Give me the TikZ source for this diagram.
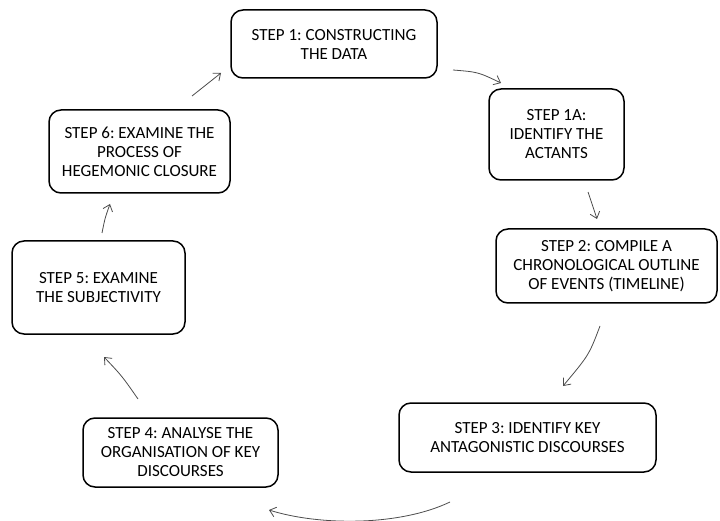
\documentclass[tikz,border=0pt]{standalone}
\usepackage{fontspec}
\setmainfont{Carlito}
\usetikzlibrary{arrows.meta}

\begin{document}
\frenchspacing
\begin{tikzpicture}[x=1pt, y=-1pt,
    stepbox/.style={draw=black, line width=1.5pt, rounded corners=12pt, align=center, inner sep=0pt, font=\fontsize{17}{19}\selectfont},
    link/.style={-{Straight Barb[length=6pt, width=10pt]}, draw=black!70, line width=0.8pt}]
    \useasboundingbox (0, 0) rectangle (720, 521);

    %Nodes
    \node[stepbox, minimum width=206pt, minimum height=68pt] at (334, 44) (s1) {STEP 1: CONSTRUCTING\\THE DATA};
    \node[stepbox, minimum width=135pt, minimum height=91pt] at (556.5, 134.5) (s1a) {STEP 1A:\\IDENTIFY THE\\ACTANTS};
    \node[stepbox, minimum width=221pt, minimum height=74pt] at (606.5, 266) (s2) {STEP 2: COMPILE A\\CHRONOLOGICAL OUTLINE\\OF EVENTS (TIMELINE)};
    \node[stepbox, minimum width=257pt, minimum height=69pt] at (527.5, 437.5) (s3) {STEP 3: IDENTIFY KEY\\ANTAGONISTIC DISCOURSES};
    \node[stepbox, minimum width=195pt, minimum height=69pt] at (180.5, 452.5) (s4) {STEP 4: ANALYSE THE\\ORGANISATION OF KEY\\DISCOURSES};
    \node[stepbox, minimum width=173pt, minimum height=93pt] at (98.5, 287.5) (s5) {STEP 5: EXAMINE\\THE SUBJECTIVITY};
    \node[stepbox, minimum width=181pt, minimum height=83pt] at (139.5, 151.5) (s6) {STEP 6: EXAMINE THE\\PROCESS OF\\HEGEMONIC CLOSURE};

    %Arrow ends
    \coordinate (a1) at (453, 70);   \coordinate (b1) at (501, 83);
    \coordinate (a2) at (588, 192);  \coordinate (b2) at (597, 219);
    \coordinate (a3) at (600, 326);  \coordinate (b3) at (563, 386);
    \coordinate (a4) at (450, 502);  \coordinate (b4) at (269, 510);
    \coordinate (a5) at (138, 399);  \coordinate (b5) at (104, 357);
    \coordinate (a6) at (102, 233);  \coordinate (b6) at (110, 204);
    \coordinate (a7) at (192, 96);   \coordinate (b7) at (221, 73);

    %Lines
    \draw[link] (a1) .. controls (478, 72) .. (b1);
    \draw[link] (a2) -- (b2);
    \draw[link] (a3) .. controls (589, 355) .. (b3);
    \draw[link] (a4) .. controls (400, 526) and (320, 526) .. (b4);
    \draw[link] (a5) .. controls (122, 376) .. (b5);
    \draw[link] (a6) .. controls (105, 218) .. (b6);
    \draw[link] (a7) -- (b7);

\end{tikzpicture}
\end{document}
